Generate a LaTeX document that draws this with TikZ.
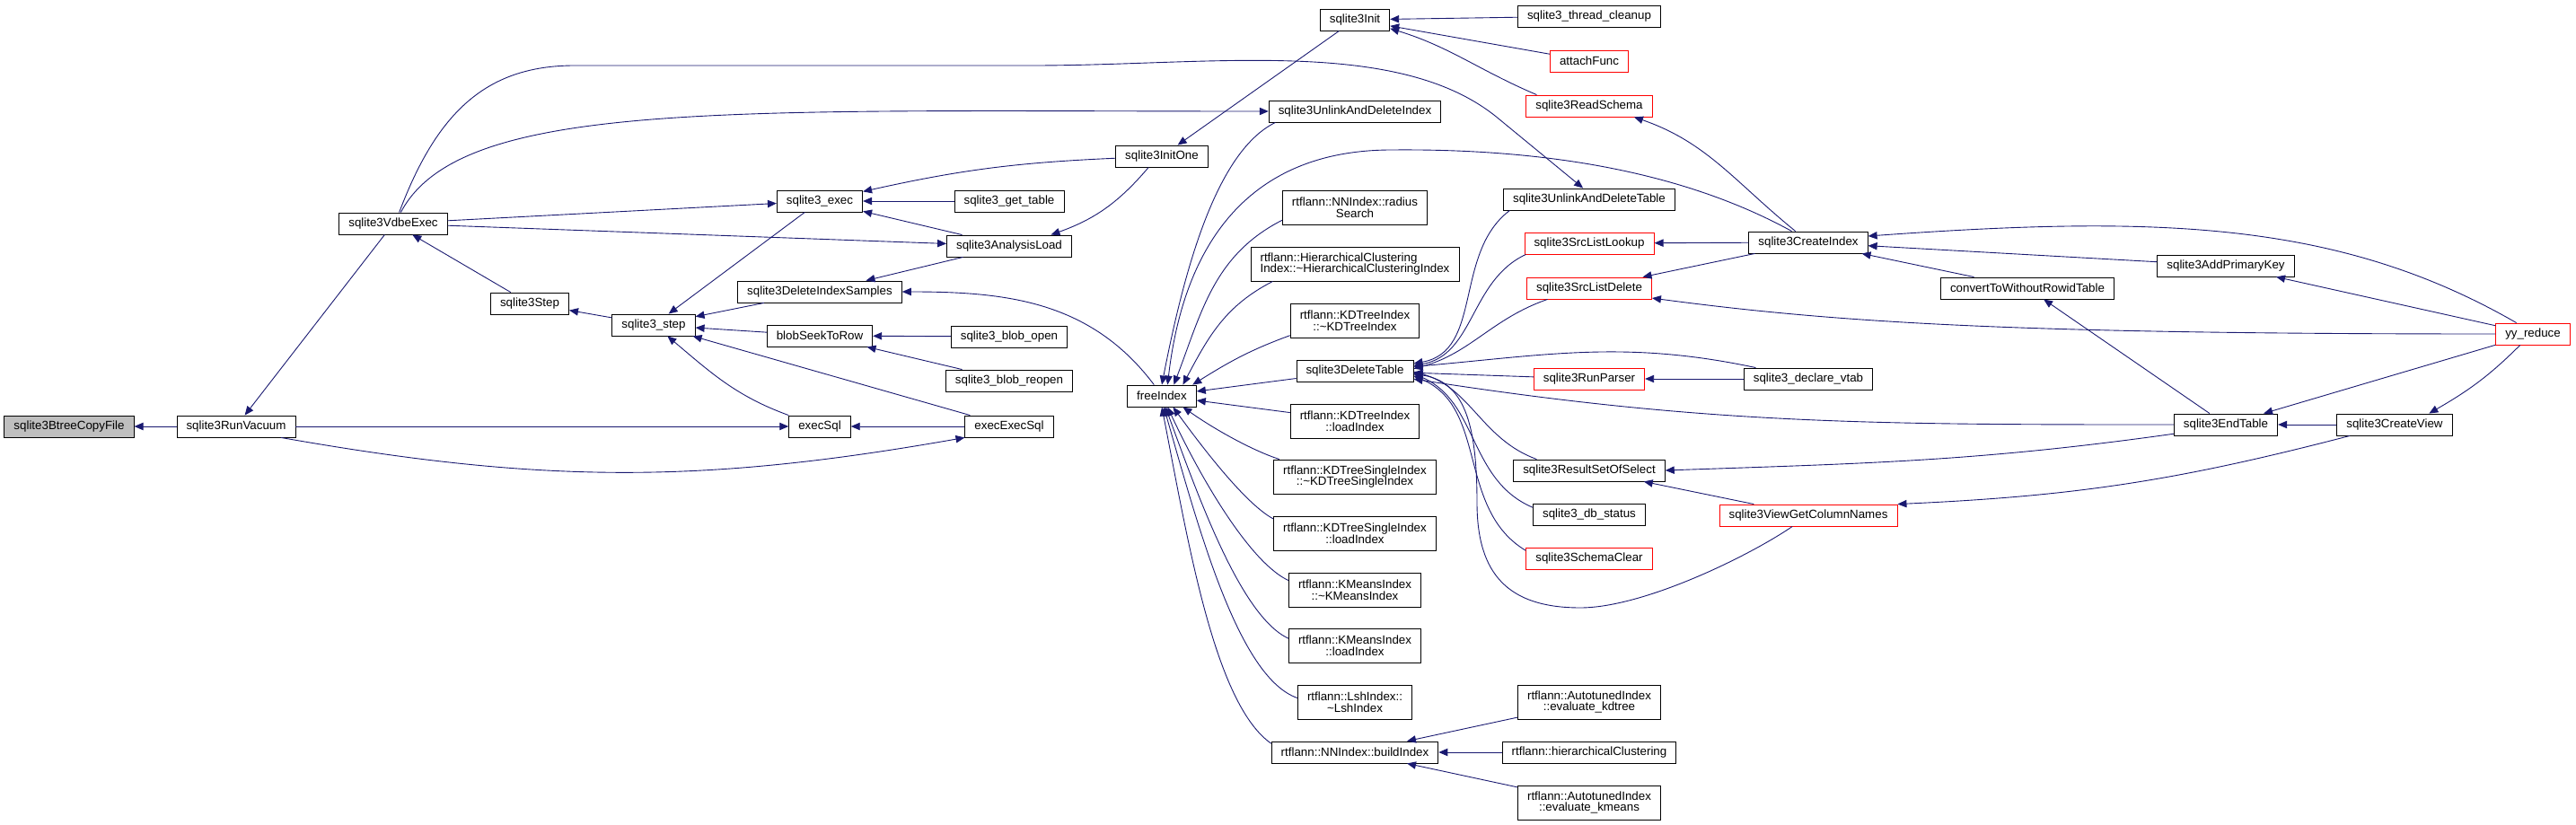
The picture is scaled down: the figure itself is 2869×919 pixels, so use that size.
\documentclass[tikz,border=0pt]{standalone}
\usepackage{fontspec}
\setmainfont{Liberation Sans}
\usepackage{tikz}
\usetikzlibrary{arrows.meta}
\definecolor{callblue}{HTML}{191970}
\definecolor{rootgrey}{HTML}{BFBFBF}
\definecolor{linkred}{HTML}{FF0000}
\tikzset{
  fn/.style={draw=black, fill=white, line width=0.8pt, font=\fontsize{12}{11.5}\selectfont,
             inner xsep=9.5pt, inner ysep=2pt, minimum height=21.6pt, align=center},
  fn2/.style={fn, minimum height=34.2pt},
  fnred/.style={fn, draw=linkred},
  fnroot/.style={fn, fill=rootgrey},
  call/.style={-{Triangle[length=9pt, width=7.5pt]}, draw=callblue, line width=0.8pt},
}

\begin{document}
\begin{tikzpicture}[x=0.9pt, y=0.9pt]
  \useasboundingbox (0,0) rectangle (2869,-919);
  \node[fnroot] (copyfile) at (77,-475) {sqlite3BtreeCopyFile};
  \node[fn] (vacuum) at (263,-475) {sqlite3RunVacuum};
  \node[fn] (vdbe) at (438,-249) {sqlite3VdbeExec};
  \node[fn] (stepA) at (590,-338) {sqlite3Step};
  \node[fn] (stepB) at (728,-362) {sqlite3\_step};
  \node[fn] (exec) at (913,-224) {sqlite3\_exec};
  \node[fn] (delsamples) at (913,-325) {sqlite3DeleteIndexSamples};
  \node[fn] (seekrow) at (913,-374) {blobSeekToRow};
  \node[fn] (execsql) at (913,-475) {execSql};
  \node[fn] (gettable) at (1124,-224) {sqlite3\_get\_table};
  \node[fn] (anload) at (1124,-274) {sqlite3AnalysisLoad};
  \node[fn] (blobopen) at (1124,-375) {sqlite3\_blob\_open};
  \node[fn] (blobreopen) at (1124,-424) {sqlite3\_blob\_reopen};
  \node[fn] (execexec) at (1124,-475) {execExecSql};
  \node[fn] (initone) at (1294,-174) {sqlite3InitOne};
  \node[fn] (freeidx) at (1294,-441) {freeIndex};
  \node[fn] (init) at (1509,-22) {sqlite3Init};
  \node[fn] (unlinkidx) at (1509,-124) {sqlite3UnlinkAndDeleteIndex};
  \node[fn2] (radius) at (1509,-231) {rtflann::NNIndex::radius\\Search};
  \node[fn2, align=left] (hier) at (1509,-294) {rtflann::HierarchicalClustering\\Index::\textasciitilde HierarchicalClusteringIndex};
  \node[fn2] (kdtdel) at (1509,-357) {rtflann::KDTreeIndex\\::\textasciitilde KDTreeIndex};
  \node[fn] (deltable) at (1509,-413) {sqlite3DeleteTable};
  \node[fn2] (kdtload) at (1509,-469) {rtflann::KDTreeIndex\\::loadIndex};
  \node[fn2] (kdsdel) at (1509,-531) {rtflann::KDTreeSingleIndex\\::\textasciitilde KDTreeSingleIndex};
  \node[fn2] (kdsload) at (1509,-594) {rtflann::KDTreeSingleIndex\\::loadIndex};
  \node[fn2] (kmdel) at (1509,-657) {rtflann::KMeansIndex\\::\textasciitilde KMeansIndex};
  \node[fn2] (kmload) at (1509,-719) {rtflann::KMeansIndex\\::loadIndex};
  \node[fn2] (lshdel) at (1509,-782) {rtflann::LshIndex::\\\textasciitilde LshIndex};
  \node[fn] (build) at (1509,-838) {rtflann::NNIndex::buildIndex};
  \node[fn] (cleanup) at (1770,-18) {sqlite3\_thread\_cleanup};
  \node[fnred] (attach) at (1770,-68) {attachFunc};
  \node[fnred] (readschema) at (1770,-118) {sqlite3ReadSchema};
  \node[fn] (unlinktab) at (1770,-222) {sqlite3UnlinkAndDeleteTable};
  \node[fnred] (lookup) at (1770,-271) {sqlite3SrcListLookup};
  \node[fnred] (srcdel) at (1770,-321) {sqlite3SrcListDelete};
  \node[fnred] (runparser) at (1770,-422) {sqlite3RunParser};
  \node[fn] (resultset) at (1770,-524) {sqlite3ResultSetOfSelect};
  \node[fn] (dbstatus) at (1770,-573) {sqlite3\_db\_status};
  \node[fnred] (schemaclr) at (1770,-622) {sqlite3SchemaClear};
  \node[fn2] (evalkd) at (1770,-782) {rtflann::AutotunedIndex\\::evaluate\_kdtree};
  \node[fn] (hclust) at (1770,-838) {rtflann::hierarchicalClustering};
  \node[fn2] (evalkm) at (1770,-894) {rtflann::AutotunedIndex\\::evaluate\_kmeans};
  \node[fn] (createidx) at (2014,-270) {sqlite3CreateIndex};
  \node[fn] (vtab) at (2014,-422) {sqlite3\_declare\_vtab};
  \node[fnred] (viewcols) at (2014,-574) {sqlite3ViewGetColumnNames};
  \node[fn] (norowid) at (2258,-321) {convertToWithoutRowidTable};
  \node[fn] (primkey) at (2479,-296) {sqlite3AddPrimaryKey};
  \node[fn] (endtable) at (2479,-473) {sqlite3EndTable};
  \node[fn] (createview) at (2667,-473) {sqlite3CreateView};
  \node[fnred] (reduce) at (2821,-372) {yy\_reduce};

  \foreach \a/\b in {vacuum/copyfile, vdbe/vacuum, stepA/vdbe, stepB/stepA, exec/stepB, delsamples/stepB,
      seekrow/stepB, execexec/stepB, vacuum/execsql, execexec/execsql, vdbe/exec, vdbe/anload,
      gettable/exec, anload/exec, init/initone, anload/delsamples, blobopen/seekrow, blobreopen/seekrow,
      cleanup/init, attach/init, deltable/freeidx, kdtload/freeidx, evalkd/build, hclust/build,
      evalkm/build, runparser/deltable, viewcols/resultset, createidx/lookup, createidx/srcdel,
      vtab/runparser, primkey/createidx, norowid/createidx, reduce/primkey, endtable/norowid,
      reduce/endtable, createview/endtable}
    \draw[call] (\a) -- (\b);

  \foreach \n/\a/\o/\i/\b/\l in {radius/190/207/69/43/1, hier/192/207/62/28/1, kdtdel/193/200/32/20/1,
      kdsdel/167/162/-35/332/.6, kdsload/170/152/-54/315/.5, kmdel/172/155/-65/297/.5,
      kmload/174/155/-70/288/.5, lshdel/176/161/-74/280/.5, build/174/145/-79/270/.5}
    \draw[call] (\n.\a) to[out=\o, in=\i, out looseness=\l] (freeidx.\b);

  \foreach \n/\a/\o/\i/\b in {unlinktab/188/217/10/7, lookup/190/205/10/5, srcdel/195/199/15/2,
      vtab/168/168/5/4, resultset/168/160/-15/359, dbstatus/173/157/-23/357, schemaclr/173/149/-23/355}
    \draw[call] (\n.\a) to[out=\o, in=\i] (deltable.\b);

  \draw[call] (execsql.north west) to[out=160, in=-40] (stepB.321);
  \draw[call] (vacuum.346) to[out=-10, in=190] (execexec.south west);
  \draw[call] (vdbe.56) .. controls (513,-110) and (813,-124) .. (unlinkidx.west);
  \draw[call] (vdbe.62) .. controls (486,-127) and (540,-73) .. (640,-73) -- (1150,-73)
    .. controls (1350,-73) and (1560,-40) .. (1670,-133) -- (unlinktab.119);
  \draw[call] (initone) to[bend right=5] (exec);
  \draw[call] (initone.220) to[bend left=15] (anload.15);
  \draw[call] (freeidx.125) to[out=127, in=0] (delsamples.east);
  \draw[call] (readschema.168) to[out=157, in=-17] (init.346);
  \draw[call] (createidx.139) to[out=141, in=-19] (readschema.346);
  \draw[call] (unlinkidx.188) to[out=206, in=79, out looseness=.6] (freeidx.north);
  \draw[call] (createidx.146) .. controls (1900,-205) and (1760,-165) .. (1550,-167)
    .. controls (1400,-167) and (1320,-260) .. (freeidx.63);
  \draw[call] (endtable.west) .. controls (2089,-473) and (1901,-473) .. (deltable.352);
  \draw[call] (endtable.190) to[out=188, in=2] (resultset.east);
  \draw[call] (viewcols.215) .. controls (1947,-620) and (1830,-677) .. (1760,-677)
    .. controls (1680,-677) and (1645,-640) .. (1645,-560)
    .. controls (1645,-470) and (1630,-425) .. (deltable.357);
  \draw[call] (reduce.west) .. controls (2250,-372) and (2050,-360) .. (srcdel.351);
  \draw[call] (reduce.146) .. controls (2604,-245) and (2400,-240) .. (createidx.6);
  \draw[call] (reduce.221) to[out=225, in=30] (createview.18);
  \draw[call] (createview.194) to[bend left=6] (viewcols.north east);
\end{tikzpicture}
\end{document}
